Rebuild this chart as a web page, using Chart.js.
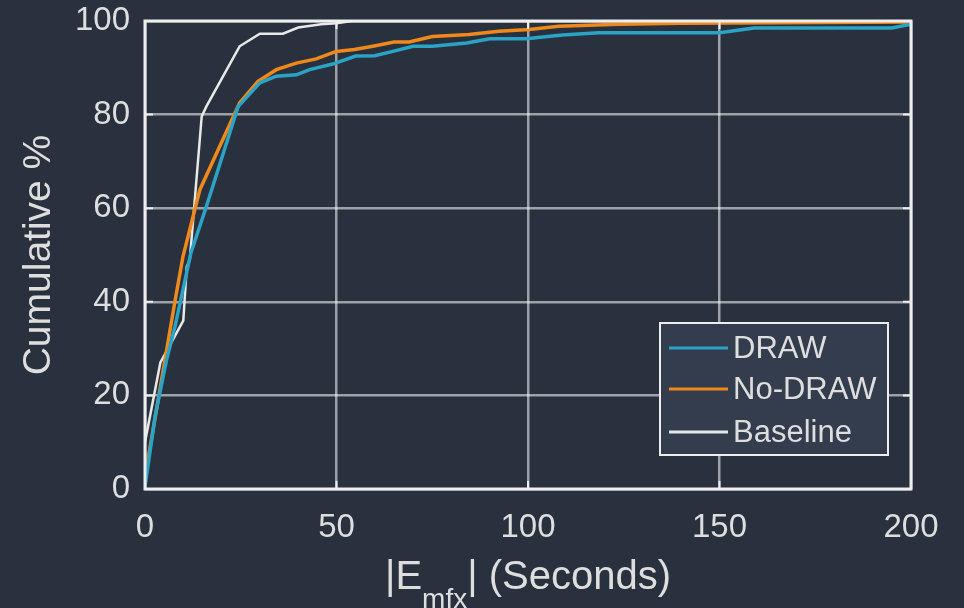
<!DOCTYPE html>
<html>
<head>
<meta charset="utf-8">
<script src="https://cdn.jsdelivr.net/npm/chart.js@4"></script>
<style>
  body { margin: 0; background: #29313e; }
  canvas { display: block; }
</style>
</head>
<body>
<canvas id="myChart" width="964" height="608"></canvas>
<script>
// values (x in seconds, y in cumulative %)
const drawX = [0, 2.6, 5.6, 7.8, 12, 16, 24.3, 30, 34.3, 39.5, 43, 49, 55, 60, 64.7, 70, 75, 84, 90, 99.5, 109, 118.5, 150, 159, 195, 200]
const drawY = [0.5, 15.4, 27.5, 34.6, 50.5, 60.3, 81.7, 86.8, 88.2, 88.5, 89.6, 90.8, 92.5, 92.6, 93.5, 94.6, 94.6, 95.3, 96.2, 96.2, 97, 97.5, 97.5, 98.5, 98.5, 99.3]

const noDrawX = [0, 5.2, 7.8, 9.9, 14.3, 24.7, 29.5, 34.3, 39.5, 44.7, 49.9, 54.7, 59.5, 65, 69, 75, 84.6, 92.4, 100.3, 108, 123.7, 140, 200]
const noDrawY = [2.5, 27.5, 40, 49.6, 63.9, 82.5, 87.1, 89.6, 91, 91.9, 93.5, 93.9, 94.6, 95.5, 95.5, 96.7, 97.1, 97.8, 98.2, 98.9, 99.3, 99.5, 99.8]

const baseX = [0, 4, 8, 10, 10.9, 11.7, 14.8, 16, 24.7, 30, 36, 40, 46, 50, 54, 200]
const baseY = [10, 27, 33, 36, 47.5, 49, 79.6, 81.7, 94.6, 97.3, 97.3, 98.6, 99.3, 99.5, 100, 100]

const xTicks = [0, 50, 100, 150, 200]
const yTicks = [0, 20, 40, 60, 80, 100]

const labels = ["DRAW", "No-DRAW", "Baseline"]
const colors = ["#2aa4c6", "#f0891b", "#e8e8e8"]

const FONT = "'Liberation Sans', Arial, sans-serif"
const TEXT = "#dedede"

function pts(xs, ys) {
  return xs.map((x, i) => ({ x: x, y: ys[i] }))
}

// box + inner tick marks, drawn like a matlab axes
const boxPlugin = {
  id: "box",
  afterDatasetsDraw(chart) {
    const { ctx, chartArea: a, scales } = chart
    ctx.save()
    ctx.strokeStyle = "#eeeeee"
    ctx.lineWidth = 3
    ctx.strokeRect(a.left, a.top, a.right - a.left, a.bottom - a.top)
    ctx.lineWidth = 2
    ctx.beginPath()
    xTicks.forEach(v => {
      const px = scales.x.getPixelForValue(v)
      ctx.moveTo(px, a.bottom); ctx.lineTo(px, a.bottom - 8)
      ctx.moveTo(px, a.top); ctx.lineTo(px, a.top + 8)
    })
    yTicks.forEach(v => {
      const py = scales.y.getPixelForValue(v)
      ctx.moveTo(a.left, py); ctx.lineTo(a.left + 8, py)
      ctx.moveTo(a.right, py); ctx.lineTo(a.right - 8, py)
    })
    ctx.stroke()
    ctx.restore()
  },
  afterDraw(chart) {
    const { ctx, chartArea: a } = chart
    ctx.save()
    // legend
    const w = 228, h = 132
    const lx = a.right - 23 - w
    const ly = a.bottom - 34 - h
    ctx.fillStyle = "#333d4e"
    ctx.fillRect(lx, ly, w, h)
    ctx.strokeStyle = "#eeeeee"
    ctx.lineWidth = 2
    ctx.strokeRect(lx, ly, w, h)
    const rows = [25, 66, 109]
    chart.data.datasets.forEach((ds, i) => {
      const y = ly + rows[i]
      ctx.strokeStyle = ds.borderColor
      ctx.lineWidth = 3
      ctx.beginPath()
      ctx.moveTo(lx + 9, y)
      ctx.lineTo(lx + 68, y)
      ctx.stroke()
      ctx.fillStyle = TEXT
      ctx.font = "31px " + FONT
      ctx.textBaseline = "middle"
      ctx.textAlign = "left"
      ctx.fillText(ds.label, lx + 73, y + 1)
    })

    // x axis title with subscript
    const big = "40px " + FONT, small = "28px " + FONT
    ctx.font = big
    const w1 = ctx.measureText("|E").width
    const w3 = ctx.measureText("| (Seconds)").width
    ctx.font = small
    const w2 = ctx.measureText("mfx").width
    let x = 528 - (w1 + w2 + w3) / 2
    const base = 589
    ctx.textBaseline = "alphabetic"
    ctx.fillStyle = TEXT
    ctx.font = big
    ctx.fillText("|E", x, base)
    x += w1
    ctx.font = small
    ctx.fillText("mfx", x, base + 19)
    x += w2
    ctx.font = big
    ctx.fillText("| (Seconds)", x, base)
    ctx.restore()
  }
}

const ctx = document.getElementById("myChart").getContext("2d")

const mainData = {
  datasets: [
    { label: labels[0], data: pts(drawX, drawY), borderColor: colors[0], borderWidth: 3.5 },
    { label: labels[1], data: pts(noDrawX, noDrawY), borderColor: colors[1], borderWidth: 3.5 },
    { label: labels[2], data: pts(baseX, baseY), borderColor: colors[2], borderWidth: 2.5 },
  ],
}

const config = {
  type: "line",
  data: mainData,
  options: {
    responsive: false,
    animation: false,
    layout: { padding: { top: 21, right: 53, left: 0, bottom: 0 } },
    elements: { point: { radius: 0 }, line: { tension: 0 } },
    plugins: { legend: { display: false }, tooltip: { enabled: false } },
    scales: {
      x: {
        type: "linear",
        min: 0,
        max: 200,
        afterFit: (scale) => {
          scale.height = 119
          scale.paddingLeft = 0
          scale.paddingRight = 0
        },
        afterBuildTicks: (scale) => { scale.ticks = xTicks.map(v => ({ value: v })) },
        grid: { color: "rgba(255,255,255,0.55)", lineWidth: 2.5, drawTicks: false },
        border: { display: false },
        ticks: { color: TEXT, font: { family: FONT, size: 33 }, padding: 19 },
      },
      y: {
        min: 0,
        max: 100,
        afterFit: (scale) => {
          scale.width = 145
          scale.paddingTop = 0
          scale.paddingBottom = 0
        },
        afterBuildTicks: (scale) => { scale.ticks = yTicks.map(v => ({ value: v })) },
        grid: { color: "rgba(255,255,255,0.55)", lineWidth: 2.5, drawTicks: false },
        border: { display: false },
        ticks: { color: TEXT, font: { family: FONT, size: 33 }, padding: 15 },
        title: {
          display: true,
          text: "Cumulative %",
          color: TEXT,
          font: { family: FONT, size: 39 },
          padding: { top: 16, bottom: 0 },
        },
      },
    },
  },
  plugins: [boxPlugin],
}

new Chart(ctx, config)
</script>
</body>
</html>
